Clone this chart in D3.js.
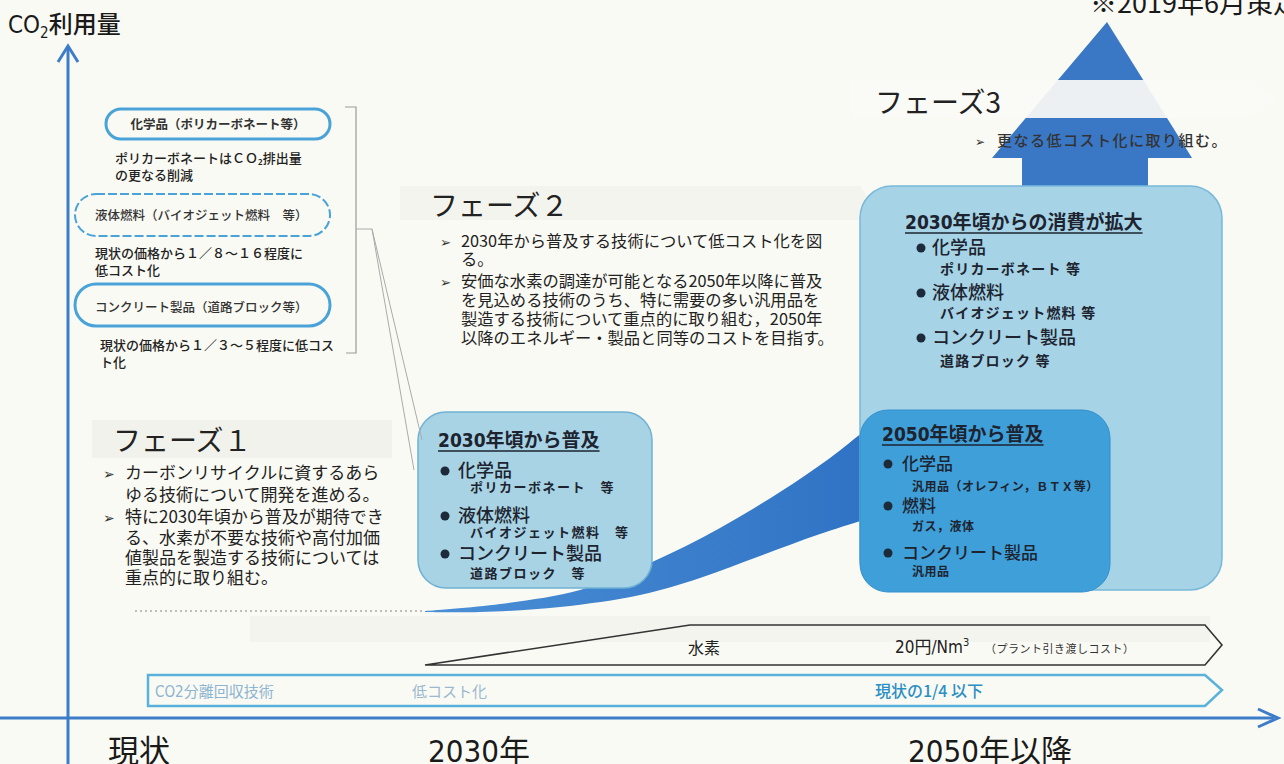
<!DOCTYPE html>
<html><head><meta charset="utf-8">
<script src="https://cdn.jsdelivr.net/npm/d3@7"></script>
<style>
html,body{margin:0;padding:0;background:#fafaf4;overflow:hidden}
svg{display:block}
</style></head>
<body>
<svg id="c" width="1284" height="764"></svg>
<script>
// ---------------- data ----------------
const timeYears = [2019, 2030, 2050];
const timeLabels = ["現状", "2030年", "2050年以降"];
const yAxisLabel = ["CO", "2", "利用量"];
const noteText = "※2019年6月策定";

const pillLabels = ["化学品（ポリカーボネート等）", "液体燃料（バイオジェット燃料　等）", "コンクリート製品（道路ブロック等）"];
const pillDashed = [false, true, false];
const pillNotes = [
  ["ポリカーボネートはＣＯ₂排出量", "の更なる削減"],
  ["現状の価格から１／８～１６程度に", "低コスト化"],
  ["現状の価格から１／３～５程度に低コス", "ト化"]
];

const phaseTitles = ["フェーズ１", "フェーズ２", "フェーズ3"];
const phase1Lines = [
  ["➢", "カーボンリサイクルに資するあら"],
  ["", "ゆる技術について開発を進める。"],
  ["➢", "特に2030年頃から普及が期待でき"],
  ["", "る、水素が不要な技術や高付加価"],
  ["", "値製品を製造する技術については"],
  ["", "重点的に取り組む。"]
];
const phase2Lines = [
  ["➢", "2030年から普及する技術について低コスト化を図"],
  ["", "る。"],
  ["➢", "安価な水素の調達が可能となる2050年以降に普及"],
  ["", "を見込める技術のうち、特に需要の多い汎用品を"],
  ["", "製造する技術について重点的に取り組む，2050年"],
  ["", "以降のエネルギー・製品と同等のコストを目指す。"]
];
const phase3Lines = [["➢", "更なる低コスト化に取り組む。"]];

const box2030Title = "2030年頃から普及";
const box2030Items = ["化学品", "液体燃料", "コンクリート製品"];
const box2030Subs = ["ポリカーボネート　等", "バイオジェット燃料　等", "道路ブロック　等"];

const boxExpandTitle = "2030年頃からの消費が拡大";
const boxExpandItems = ["化学品", "液体燃料", "コンクリート製品"];
const boxExpandSubs = ["ポリカーボネート 等", "バイオジェット燃料 等", "道路ブロック 等"];

const box2050Title = "2050年頃から普及";
const box2050Items = ["化学品", "燃料", "コンクリート製品"];
const box2050Subs = ["汎用品（オレフィン，ＢＴＸ等）", "ガス，液体", "汎用品"];

const h2Labels = ["水素", "20円/Nm", "3", "（プラント引き渡しコスト）"];
const ccsLabels = ["CO2分離回収技術", "低コスト化", "現状の1/4 以下"];

// ---------------- drawing ----------------
const JP = "'Noto Sans CJK JP','Noto Sans',sans-serif";
const NARROW = "'Liberation Sans Narrow','DejaVu Sans Condensed','Noto Sans CJK JP',sans-serif";
const svg = d3.select("#c");
const BLUE = "#3a78c6";

const x = d3.scaleLinear().domain(timeYears).range([139, 479, 990]);

function text(g, px, py, s, o = {}) {
  return g.append("text").attr("x", px).attr("y", py).text(s)
    .attr("font-family", o.ff || JP).attr("font-size", o.fs || 14)
    .attr("font-weight", o.fw || 400).attr("fill", o.fill || "#222")
    .attr("text-anchor", o.anchor || "start")
    .attr("letter-spacing", o.ls || 0);
}

// faint background bands (scan ghosts)
svg.append("rect").attr("x", 92).attr("y", 420).attr("width", 300).attr("height", 38).attr("fill", "#f2f2ec");
svg.append("path").attr("d", "M400,186 H860 L872,203 L860,220 H400 Z").attr("fill", "#f4f4ee");
svg.append("rect").attr("x", 250).attr("y", 616).attr("width", 960).attr("height", 26).attr("fill", "#f4f4ee");

// upward big arrow
svg.append("path").attr("d", "M1107,22 L1192,158 H1148 V230 H1022 V158 H992 Z").attr("fill", BLUE);
// phase 3 light band
svg.append("path").attr("d", "M850,80 H1250 L1276,99 L1250,118 H850 Z").attr("fill", "rgba(250,250,246,0.93)");

// swoosh
const topEdge = [[425,611],[500,604],[580,590],[650,563],[720,528],[780,492],[830,458],[880,418]];
const botEdge = [[880,515],[820,534],[760,556],[700,578],[640,595],[560,607],[480,612],[425,612]];
const line = d3.line().curve(d3.curveCatmullRom);
const swooshGrad = svg.append("defs").append("linearGradient").attr("id", "sg")
  .attr("x1", "0").attr("x2", "1").attr("y1", "0").attr("y2", "0");
swooshGrad.append("stop").attr("offset", "0").attr("stop-color", "#4a8fd6");
swooshGrad.append("stop").attr("offset", "1").attr("stop-color", "#2f72c4");
svg.append("path").attr("d", line(topEdge) + "L" + line(botEdge).slice(1) + "Z").attr("fill", "url(#sg)");

// dotted line
svg.append("line").attr("x1", 135).attr("x2", 425).attr("y1", 611).attr("y2", 611)
  .attr("stroke", "#aaa").attr("stroke-width", 1.5).attr("stroke-dasharray", "2,3");

// big expand box
svg.append("rect").attr("x", 860).attr("y", 186).attr("width", 362).attr("height", 404).attr("rx", 32)
  .attr("fill", "#a6d3e6").attr("stroke", "#78b9da").attr("stroke-width", 1.5);
// 2050 box
svg.append("rect").attr("x", 860).attr("y", 410).attr("width", 250).attr("height", 182).attr("rx", 28)
  .attr("fill", "#3f9fd9").attr("stroke", "#3590cc").attr("stroke-width", 1);
// 2030 box
svg.append("rect").attr("x", 418).attr("y", 412).attr("width", 234).attr("height", 176).attr("rx", 28)
  .attr("fill", "#a8d3e4").attr("stroke", "#6fb1d4").attr("stroke-width", 1.5);

function boxContent(title, items, subs, o) {
  const g = svg.append("g");
  const t = text(g, o.tx, o.ty, title, {fs: 19, fw: 700, ff: NARROW, fill: "#1d2430"});
  const w = t.node().getComputedTextLength();
  g.append("line").attr("x1", o.tx).attr("x2", o.tx + w).attr("y1", o.ty + 4).attr("y2", o.ty + 4)
    .attr("stroke", "#1d2430").attr("stroke-width", 1.5);
  items.forEach((it, i) => {
    const by = o.iy[i];
    g.append("circle").attr("cx", o.bx).attr("cy", by - 6).attr("r", 4.5).attr("fill", "#1d2a3a");
    text(g, o.ix, by, it, {fs: o.ifs, fw: 500, fill: "#1d2430"});
    text(g, o.sx, o.sy[i], subs[i], {fs: o.sfs, fw: 700, fill: "#1d2430", ls: o.ls});
  });
}
boxContent(box2030Title, box2030Items, box2030Subs,
  {tx: 438, ty: 447, bx: 445, ix: 458, iy: [477, 522, 560], sx: 470, sy: [492, 537, 578], ifs: 18, sfs: 13, ls: 1.5});
boxContent(boxExpandTitle, boxExpandItems, boxExpandSubs,
  {tx: 905, ty: 229, bx: 921, ix: 932, iy: [254, 299, 344], sx: 940, sy: [274, 318, 366], ifs: 18, sfs: 14, ls: 1.2});
boxContent(box2050Title, box2050Items, box2050Subs,
  {tx: 882, ty: 441, bx: 888, ix: 902, iy: [470, 512, 559], sx: 912, sy: [491, 531, 576], ifs: 17, sfs: 12, ls: 0.5});

// left pills
const pillGeo = [[106,109,224,30,129,218,"middle"],[75,194,255,42,220,95,"start"],[75,284,255,42,312,95,"start"]];
const noteGeo = [[115,[163,180]],[95,[258,275]],[100,[350,367]]];
pillLabels.forEach((lab, i) => {
  const [px, py, pw, ph, ty, tx, anc] = pillGeo[i];
  svg.append("rect").attr("x", px).attr("y", py).attr("width", pw).attr("height", ph).attr("rx", ph / 2)
    .attr("fill", "none").attr("stroke", "#4aa3d8").attr("stroke-width", pillDashed[i] ? 2 : 3)
    .attr("stroke-dasharray", pillDashed[i] ? "9,3" : null);
  text(svg, tx, ty, lab, {fs: 12.5, fw: i === 0 ? 700 : 500, fill: "#333", anchor: anc});
  pillNotes[i].forEach((n, j) => text(svg, noteGeo[i][0], noteGeo[i][1][j], n, {fs: 13, fw: 500, fill: "#222"}));
});
// bracket
svg.append("path").attr("d", "M345,107 H356 V353 H346").attr("fill", "none").attr("stroke", "#999").attr("stroke-width", 1.2);
svg.append("path").attr("d", "M356,229 H372 L422,440 M372,229 L414,470").attr("fill", "none").attr("stroke", "#aaa").attr("stroke-width", 1);

// phase texts
function phase(title, tx, ty, lines, o) {
  text(svg, tx, ty, title, {fs: 28, fw: 400, fill: "#222"});
  lines.forEach((ln, i) => {
    if (ln[0]) text(svg, o.bx, o.ys[i], ln[0], {fs: o.fs - 3, ff: "'DejaVu Sans',sans-serif", fill: "#333"});
    text(svg, o.x, o.ys[i], ln[1], {fs: o.fs, fill: o.fill || "#222", fw: o.fw || 400, ls: o.ls || 0});
  });
}
phase(phaseTitles[0], 113, 451, phase1Lines, {bx: 103, x: 125, ys: [479, 501, 523, 544, 564, 584], fs: 17});
phase(phaseTitles[1], 430, 216, phase2Lines, {bx: 440, x: 461, ys: [247, 265, 287, 306, 325, 344], fs: 16.3});
phase(phaseTitles[2], 875, 113, phase3Lines, {bx: 975, x: 997, ys: [146], fs: 15, fw: 500, fill: "#333", ls: 1.5});

// hydrogen arrow
svg.append("path").attr("d", "M425,665 L690,625 H1205 L1222,645 L1205,665 Z")
  .attr("fill", "none").attr("stroke", "#333").attr("stroke-width", 1.6);
text(svg, 688, 654, h2Labels[0], {fs: 16, fill: "#222"});
const h2t = text(svg, 895, 653, h2Labels[1], {fs: 17, ff: NARROW, fill: "#222"});
h2t.append("tspan").attr("dy", -7).attr("font-size", 11).text(h2Labels[2]);
text(svg, 985, 653, h2Labels[3], {fs: 11, fill: "#333", ls: 0.5});

// CO2 capture arrow
svg.append("path").attr("d", "M148,675 H1205 L1222,690 L1205,706 H148 Z")
  .attr("fill", "none").attr("stroke", "#5ab2da").attr("stroke-width", 2.5);
text(svg, 155, 697, ccsLabels[0], {fs: 15, ff: NARROW, fill: "#8db5d0"});
text(svg, 412, 697, ccsLabels[1], {fs: 15, fill: "#9ab8cf"});
text(svg, 875, 697, ccsLabels[2], {fs: 16, fw: 500, fill: "#2a8fc4"});

// axes
svg.append("line").attr("x1", 68).attr("x2", 68).attr("y1", 48).attr("y2", 764).attr("stroke", "#3d7cc9").attr("stroke-width", 3);
svg.append("path").attr("d", "M58,62 L68,46 L78,62").attr("fill", "none").attr("stroke", "#3d7cc9").attr("stroke-width", 3);
svg.append("line").attr("x1", 0).attr("x2", 1274).attr("y1", 718).attr("y2", 718).attr("stroke", "#3d7cc9").attr("stroke-width", 3);
svg.append("path").attr("d", "M1258,709 L1278,718 L1258,727").attr("fill", "none").attr("stroke", "#3d7cc9").attr("stroke-width", 3);

// axis labels
timeYears.forEach((yr, i) => {
  text(svg, x(yr), 762, timeLabels[i], {fs: 31, ff: NARROW, fill: "#1a1a1a", anchor: "middle"});
});
const yl = text(svg, 8, 33, yAxisLabel[0], {fs: 24, ff: NARROW, fill: "#1a1a1a"});
yl.append("tspan").attr("dy", 5).attr("font-size", 15).text(yAxisLabel[1]);
yl.append("tspan").attr("dy", -5).attr("font-family", JP).attr("font-weight", 500).text(yAxisLabel[2]);

text(svg, 1090, 13, noteText, {fs: 27, fill: "#1a1a1a"});
</script>
</body></html>
